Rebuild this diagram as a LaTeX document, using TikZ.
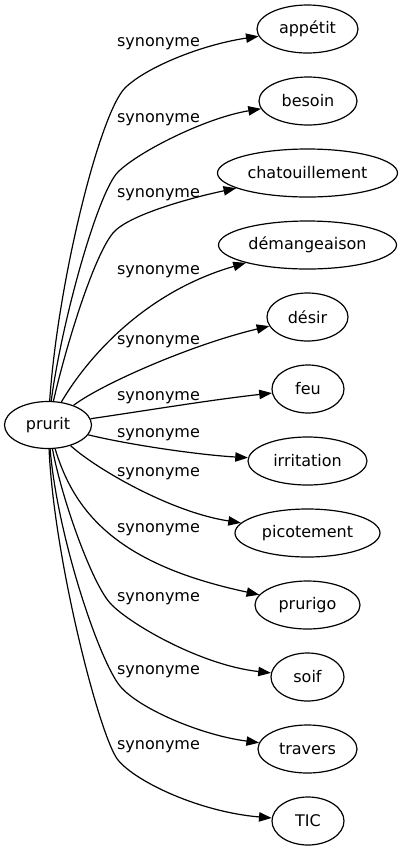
\documentclass[tikz,border=0pt]{standalone}
\usepackage{fontspec}
\setmainfont{DejaVu Sans}
\usetikzlibrary{arrows.meta,shapes.geometric}
\begin{document}
\begin{tikzpicture}[x=0.75pt,y=-0.75pt,
  every node/.style={font=\fontsize{12pt}{14pt}\selectfont},
  ell/.style={draw,ellipse,inner sep=0pt,minimum height=36pt,line width=0.9pt},
  lbl/.style={anchor=base,inner sep=0pt},
  syn/.style={draw,line width=0.9pt,-{Triangle[length=9.5pt,width=7pt]}}]
\useasboundingbox (0,0) rectangle (405,851);
% nodes
\node[ell,minimum width=65.25pt,minimum height=35.25pt] (prurit) at (48,425) {prurit};
\node[ell,minimum width=75.75pt] (appetit) at (307.5,29) {appétit};
\node[ell,minimum width=73.5pt] (besoin) at (308,101) {besoin};
\node[ell,minimum width=135pt] (chat) at (307.5,173) {chatouillement};
\node[ell,minimum width=133.5pt] (dem) at (307.5,245) {démangeaison};
\node[ell,minimum width=60.75pt] (desir) at (307.5,317) {désir};
\node[ell,minimum width=54pt] (feu) at (308,389) {feu};
\node[ell,minimum width=89.25pt] (irritation) at (307.5,461) {irritation};
\node[ell,minimum width=108.75pt] (picotement) at (307.5,533) {picotement};
\node[ell,minimum width=78.75pt] (prurigo) at (307.5,605) {prurigo};
\node[ell,minimum width=54.75pt] (soif) at (307.5,677) {soif};
\node[ell,minimum width=74.25pt] (travers) at (307.5,749) {travers};
\node[ell,minimum width=54pt] (tic) at (308,821) {TIC};
% edges
\draw[syn] (prurit) .. controls (58,280) and (100,113) .. (125,88) .. controls (145,68) and (200,45) .. (appetit);
\draw[syn] (prurit) .. controls (62,320) and (98,192) .. (118,172) .. controls (138,152) and (205,118) .. (besoin);
\draw[syn] (prurit) .. controls (65,350) and (93,257) .. (113,233) .. controls (128,215) and (190,198) .. (chat);
\draw[syn] (prurit) .. controls (80,370) and (135,295) .. (dem);
\draw[syn] (prurit) .. controls (100,385) and (190,345) .. (desir);
\draw[syn] (prurit) .. controls (150,410) and (210,400) .. (feu);
\draw[syn] (prurit) .. controls (130,445) and (200,455) .. (irritation);
\draw[syn] (prurit) .. controls (95,468) and (170,512) .. (picotement);
\draw[syn] (prurit) .. controls (75,515) and (120,565) .. (prurigo);
\draw[syn] (prurit) .. controls (62,500) and (92,583) .. (110,603) .. controls (128,623) and (200,665) .. (soif);
\draw[syn] (prurit) .. controls (58,540) and (100,662) .. (120,686) .. controls (138,708) and (200,735) .. (travers);
\draw[syn] (prurit) .. controls (54,560) and (100,738) .. (118,760) .. controls (136,782) and (200,812) .. (tic);
% labels
\node[lbl] (l1) at (158.5,46.7) {synonyme};
\node[lbl] (l2) at (158.5,122.7) {synonyme};
\node[lbl] (l3) at (158.5,197.7) {synonyme};
\node[lbl] (l4) at (158.5,274.7) {synonyme};
\node[lbl] (l5) at (158.5,344.7) {synonyme};
\node[lbl] (l6) at (158.5,400.7) {synonyme};
\node[lbl] (l7) at (158.5,437.7) {synonyme};
\node[lbl] (l8) at (158.5,476.7) {synonyme};
\node[lbl] (l9) at (158.5,532.7) {synonyme};
\node[lbl] (l10) at (158.5,601.7) {synonyme};
\node[lbl] (l11) at (158.5,674.7) {synonyme};
\node[lbl] (l12) at (158.5,749.7) {synonyme};
\end{tikzpicture}
\end{document}
